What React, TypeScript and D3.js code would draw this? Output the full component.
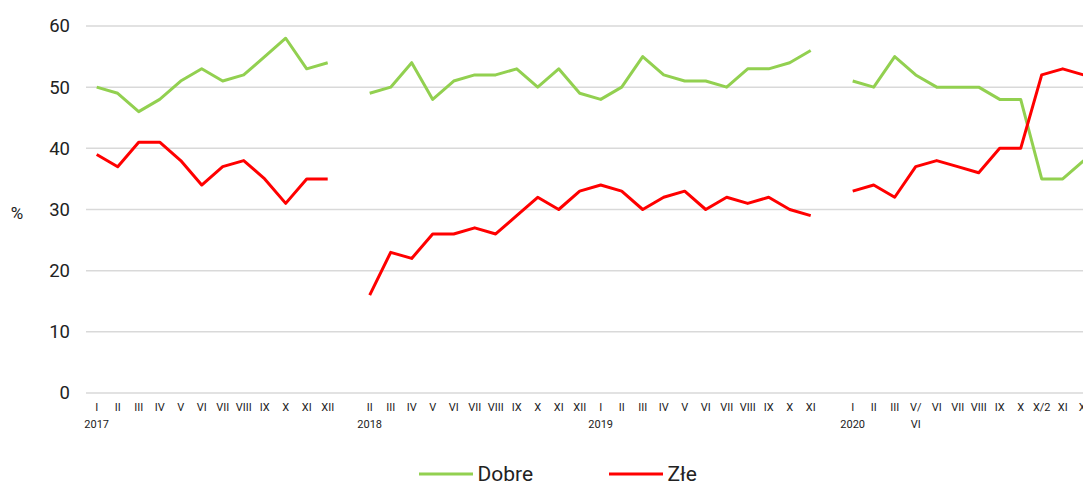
import { useEffect, useRef } from "react";
import * as d3 from "d3";

// one slot per category; "" marks the empty slot between periods
const months = [
  "I", "II", "III", "IV", "V", "VI", "VII", "VIII", "IX", "X", "XI", "XII",
  "",
  "II", "III", "IV", "V", "VI", "VII", "VIII", "IX", "X", "XI", "XII",
  "I", "II", "III", "IV", "V", "VI", "VII", "VIII", "IX", "X", "XI",
  "",
  "I", "II", "III", "V/\nVI", "VI", "VII", "VIII", "IX", "X", "X/2", "XI", "XI",
];
const years: [number, string][] = [
  [0, "2017"],
  [13, "2018"],
  [24, "2019"],
  [36, "2020"],
];
const dobre = [
  50, 49, 46, 48, 51, 53, 51, 52, 55, 58, 53, 54,
  null,
  49, 50, 54, 48, 51, 52, 52, 53, 50, 53, 49,
  48, 50, 55, 52, 51, 51, 50, 53, 53, 54, 56,
  null,
  51, 50, 55, 52, 50, 50, 50, 48, 48, 35, 35, 38,
];
const zle = [
  39, 37, 41, 41, 38, 34, 37, 38, 35, 31, 35, 35,
  null,
  16, 23, 22, 26, 26, 27, 26, 29, 32, 30, 33,
  34, 33, 30, 32, 33, 30, 32, 31, 32, 30, 29,
  null,
  33, 34, 32, 37, 38, 37, 36, 40, 40, 52, 53, 52,
];
const yTicks = [0, 10, 20, 30, 40, 50, 60];

const W = 1083;
const H = 483;

export default function App() {
  const ref = useRef<SVGSVGElement>(null);

  useEffect(() => {
    const svg = d3.select(ref.current);
    svg.selectAll("*").remove();

    const x = d3
      .scaleBand<number>()
      .domain(months.map((_, i) => i))
      .range([86.2, 86.2 + months.length * 21]);
    const y = d3.scaleLinear().domain([0, 60]).range([393, 26]);
    const cx = (i: number) => (x(i) as number) + x.bandwidth() / 2;

    // grid
    svg
      .append("g")
      .selectAll("line")
      .data(yTicks)
      .join("line")
      .attr("x1", 86)
      .attr("x2", W)
      .attr("y1", (d) => y(d))
      .attr("y2", (d) => y(d))
      .attr("stroke", "#d9d9d9")
      .attr("stroke-width", 1.5);

    svg
      .append("g")
      .selectAll("text")
      .data(yTicks)
      .join("text")
      .attr("x", 70)
      .attr("y", (d) => y(d))
      .attr("dy", "0.35em")
      .attr("text-anchor", "end")
      .attr("font-size", 18.5)
      .attr("fill", "#222")
      .text((d) => d);

    svg
      .append("text")
      .attr("x", 17)
      .attr("y", 213)
      .attr("dy", "0.35em")
      .attr("text-anchor", "middle")
      .attr("font-size", 17)
      .attr("fill", "#222")
      .text("%");

    // month labels
    const ml = svg
      .append("g")
      .attr("font-size", 11)
      .attr("fill", "#222")
      .attr("text-anchor", "middle");
    months.forEach((m, i) => {
      m.split("\n").forEach((part, k) => {
        ml.append("text")
          .attr("x", cx(i))
          .attr("y", 411 + k * 17)
          .text(part);
      });
    });
    years.forEach(([i, label]) => {
      ml.append("text")
        .attr("x", cx(i))
        .attr("y", 428)
        .text(label);
    });

    const line = d3
      .line<number | null>()
      .defined((d) => d != null)
      .x((_, i) => cx(i))
      .y((d) => y(d as number));

    svg
      .append("path")
      .datum(dobre)
      .attr("fill", "none")
      .attr("stroke", "#92d050")
      .attr("stroke-width", 3)
      .attr("stroke-linejoin", "round")
      .attr("d", line);
    svg
      .append("path")
      .datum(zle)
      .attr("fill", "none")
      .attr("stroke", "#ff0000")
      .attr("stroke-width", 3)
      .attr("stroke-linejoin", "round")
      .attr("d", line);

    // legend
    const legend = [
      { label: "Dobre", color: "#92d050", x: 419 },
      { label: "Złe", color: "#ff0000", x: 609 },
    ];
    const lg = svg.append("g");
    legend.forEach((l) => {
      lg.append("line")
        .attr("x1", l.x)
        .attr("x2", l.x + 54)
        .attr("y1", 474)
        .attr("y2", 474)
        .attr("stroke", l.color)
        .attr("stroke-width", 3);
      lg.append("text")
        .attr("x", l.x + 58.5)
        .attr("y", 474)
        .attr("dy", "0.35em")
        .attr("font-size", 21)
        .attr("fill", "#222")
        .text(l.label);
    });
  }, []);

  return (
    <svg
      ref={ref}
      width={W}
      height={H}
      style={{
        position: "absolute",
        left: 0,
        top: 0,
        fontFamily: "Roboto, sans-serif",
        background: "#fff",
      }}
    />
  );
}
